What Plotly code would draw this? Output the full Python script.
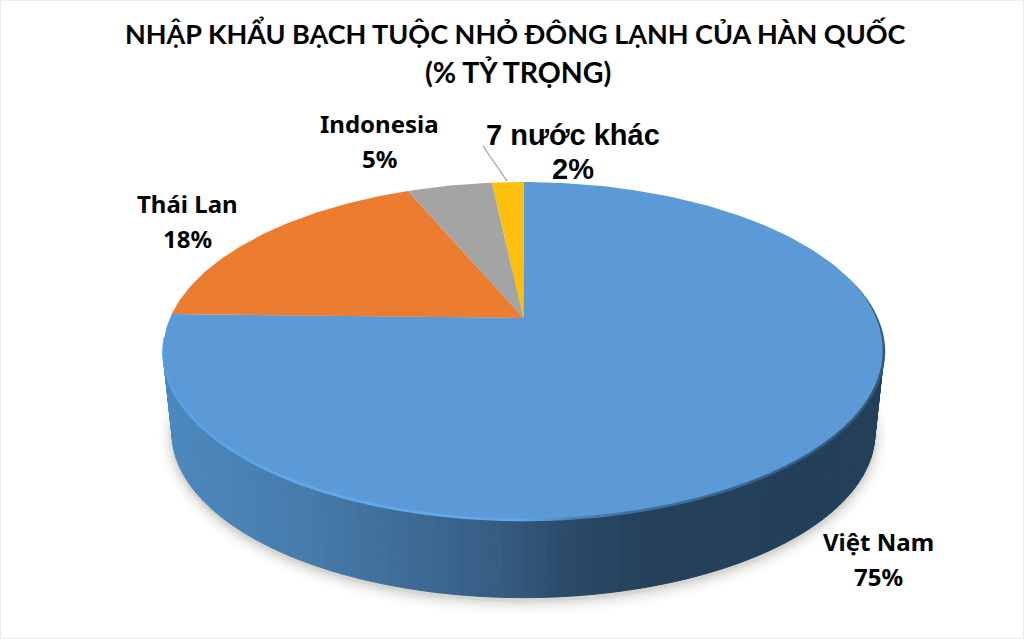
import numpy as np
import plotly.graph_objects as go

# --- data -----------------------------------------------------------------
countries = ["Việt Nam", "Thái Lan", "Indonesia", "7 nước khác"]
shares = [75.4, 18.3, 4.6, 1.7]
share_labels = ["75%", "18%", "5%", "2%"]
title_lines = ["NHẬP KHẨU BẠCH TUỘC NHỎ ĐÔNG LẠNH CỦA HÀN QUỐC", "(% TỶ TRỌNG)"]

# --- styles ---------------------------------------------------------------
slice_colors = ["#5B9AD6", "#EC7C30", "#A4A4A4", "#FDBF0C"]
APEX_X, APEX_Y = 523.5, 318.0
A, B, K = 353.5, 162.5, 0.195      # perspective projection of the pie disc
WALL_SCALE, WALL_DROP = 0.975, 82  # base disc relative to top disc
ELL_CY = 351.0


def project(theta):
    """theta: clockwise from 12 o'clock, radians, on the unit disc."""
    u, v = np.sin(theta), np.cos(theta)
    w = 1 + K * v
    return APEX_X + A * u / w, APEX_Y - B * v / w


def base(x, y):
    return APEX_X + WALL_SCALE * (x - APEX_X), ELL_CY + WALL_SCALE * (y - ELL_CY) + WALL_DROP


def lerp_color(stops, x):
    xs = [s[0] for s in stops]
    rgb = [np.interp(x, xs, [s[1][i] for s in stops]) for i in range(3)]
    return "rgb(%d,%d,%d)" % tuple(int(round(c)) for c in rgb)


wall_stops = [(170, (76, 136, 190)), (300, (71, 124, 172)), (400, (63, 109, 152)),
              (500, (54, 92, 130)), (570, (42, 74, 104)), (650, (37, 64, 90)), (880, (36, 63, 88))]
rim_stops = [(163, (88, 160, 230)), (300, (98, 170, 240)), (520, (98, 168, 235)),
             (570, (78, 132, 188)), (650, (62, 108, 155)), (884, (50, 88, 125))]

fig = go.Figure()


def poly(xs, ys, color, line=0):
    fig.add_trace(go.Scatter(x=list(xs), y=list(ys), mode="lines", fill="toself", fillcolor=color,
                             line=dict(color=color, width=line), hoverinfo="skip", showlegend=False))


# soft drop shadow, from the base disc
circle = np.linspace(0, 2 * np.pi, 241)
cx, cy = project(circle)
bx, by = base(cx, cy)
for grow, alpha in [(13, 0.012), (11, 0.015), (9, 0.02), (7, 0.025), (5, 0.035), (3, 0.05), (1, 0.07)]:
    sx = APEX_X + (bx - APEX_X) * (1 + grow / 352)
    sy = by.mean() + (by - by.mean()) * (1 + grow / 163) + 3
    poly(sx, sy, "rgba(60,50,40,%.3f)" % alpha)

# side wall: the front of the first slice's arc, shaded in strips
start_front = np.pi - np.arccos(K)            # right-hand silhouette point
end_front = np.pi + np.arccos(K)              # left-hand silhouette point
edges = np.linspace(start_front, end_front, 111)
for t0, t1 in zip(edges[:-1], edges[1:]):
    x0, y0 = project(t0)
    x1, y1 = project(t1)
    xb0, yb0 = base(x0, y0)
    xb1, yb1 = base(x1, y1)
    poly([x0, x1, xb1, xb0, x0], [y0, y1, yb1, yb0, y0],
         lerp_color(wall_stops, (x0 + x1) / 2), line=1)

# top face slices, clockwise from 12 o'clock
cum = 0.0
total = sum(shares)
for share, color in zip(shares, slice_colors):
    a0 = 2 * np.pi * cum / total
    a1 = 2 * np.pi * (cum + share) / total
    th = np.linspace(a0, a1, max(8, int(share * 4)))
    px, py = project(th)
    poly([APEX_X, *px, APEX_X], [APEX_Y, *py, APEX_Y], color)
    cum += share

# bevel along the front rim of the top face, thinning out at its far right end
rim_start = start_front - 0.45
rim = np.linspace(rim_start, end_front + 0.08, 141)
for t0, t1 in zip(rim[:-1], rim[1:]):
    x0, y0 = project(t0)
    x1, y1 = project(t1)
    wid = float(np.interp((t0 + t1) / 2, [rim_start, start_front, end_front - 0.2, end_front + 0.08], [0.4, 2.6, 2.8, 1.2]))
    fig.add_trace(go.Scatter(x=[x0, x1], y=[y0, y1], mode="lines",
                             line=dict(color=lerp_color(rim_stops, (x0 + x1) / 2), width=wid),
                             hoverinfo="skip", showlegend=False))

# leader line of the smallest slice
fig.add_trace(go.Scatter(x=[483, 507], y=[146, 181], mode="lines",
                         line=dict(color="#9a9a9a", width=1.2), hoverinfo="skip", showlegend=False))

# text
annotations = []


def text(s, x, y, size, family, color="#000000"):
    annotations.append(dict(text="<b>%s</b>" % s, x=x, y=y, xref="x", yref="y", showarrow=False,
                            xanchor="center", yanchor="middle",
                            font=dict(size=size, family=family, color=color)))


TITLE_FONT = "Lato, 'Noto Sans', sans-serif"
LABEL_FONT = "'Noto Sans', 'Open Sans', sans-serif"
text(title_lines[0], 515, 33, 27, TITLE_FONT)
text(title_lines[1], 518, 72, 28.5, TITLE_FONT)
label_pos = [(878, 541, 576), (187, 203, 238), (379, 123, 158), (573, 135, 169)]
label_size = [24, 24, 24, 29]
label_font = [LABEL_FONT, LABEL_FONT, LABEL_FONT, "'Liberation Sans', Arial, sans-serif"]
for name, pct, (lx, ly0, ly1), sz, fam in zip(countries, share_labels, label_pos, label_size, label_font):
    text(name, lx, ly0, sz, fam)
    text(pct, lx, ly1, sz, fam)

fig.update_layout(
    width=1024, height=639, autosize=False,
    margin=dict(l=0, r=0, t=0, b=0),
    paper_bgcolor="#FFFFFF", plot_bgcolor="#FFFFFF",
    xaxis=dict(range=[0, 1024], visible=False, fixedrange=True),
    yaxis=dict(range=[639, 0], visible=False, fixedrange=True),
    annotations=annotations, showlegend=False,
    shapes=[dict(type="rect", xref="paper", yref="paper", x0=0, x1=1, y0=0, y1=1,
                 line=dict(color="#EBEBEB", width=2), layer="above")],
)
fig.write_html("out.html", config={"displayModeBar": False},
               post_script="document.body.style.margin='0';document.body.style.overflow='hidden';")
